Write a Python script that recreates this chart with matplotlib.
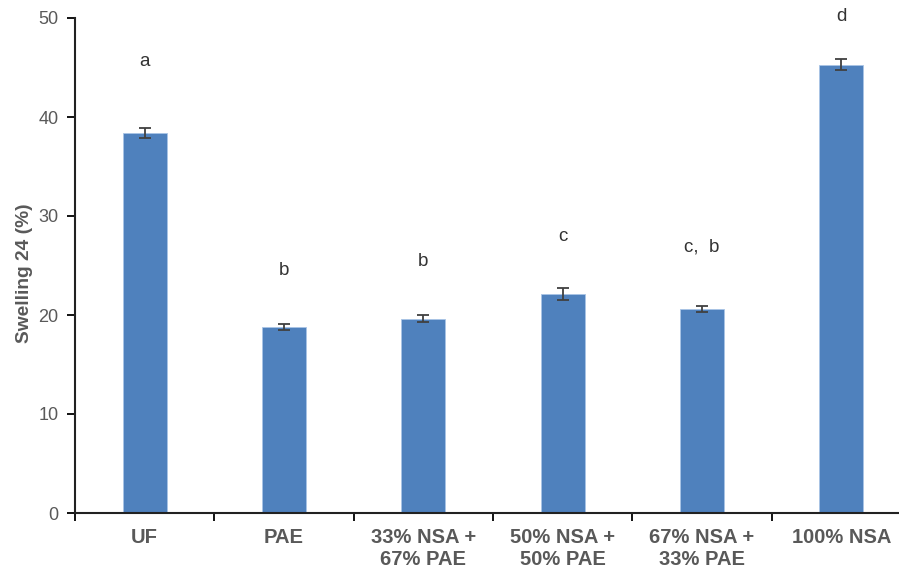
import matplotlib
matplotlib.use("Agg")
import matplotlib.pyplot as plt
import numpy as np

categories = ["UF", "PAE", "33% NSA +\n67% PAE", "50% NSA +\n50% PAE", "67% NSA +\n33% PAE", "100% NSA"]
swelling = [38.4, 18.8, 19.6, 22.1, 20.6, 45.3]
errors = [0.5, 0.3, 0.35, 0.6, 0.3, 0.55]
letters = ["a", "b", "b", "c", "c,  b", "d"]
letter_y = [45.6, 24.5, 25.4, 27.9, 26.9, 50.2]

plt.rcParams['font.family'] = ['Liberation Sans', 'DejaVu Sans']
text_color = "#595959"

fig = plt.figure(figsize=(8.99, 5.75), dpi=100)
ax = fig.add_axes([75 / 899, 62 / 575, 1 - 75 / 899, (513 - 18) / 575])

x = np.arange(len(categories))
ax.bar(x, swelling, width=0.316, color="#4F81BD", edgecolor="#A9C4E6", linewidth=0.6, zorder=2)
ax.errorbar(x, swelling, yerr=errors, fmt="none", ecolor="#404040", elinewidth=1.3,
            capsize=4, capthick=1.3, zorder=3)

for xi, lab, ly in zip(x, letters, letter_y):
    ax.text(xi, ly, lab, ha="center", va="center", fontsize=13.5, color="#333333", clip_on=False)

ax.set_ylim(0, 50)
ax.set_xlim(-0.5, 5.414)
ax.set_yticks(np.arange(0, 51, 10))
ax.tick_params(axis="y", direction="out", length=6, width=1.3, labelsize=13,
               labelcolor=text_color, pad=6)

# category boundaries carry the tick marks, labels sit at the centres
ax.set_xticks(np.arange(-0.5, 5.5, 1.0))
ax.set_xticklabels([])
ax.set_xticks(x, minor=True)
ax.set_xticklabels(categories, minor=True, fontsize=14.5, fontweight="bold",
                   color=text_color, linespacing=1.2)
ax.tick_params(axis="x", which="major", direction="out", length=6, width=1.3)
ax.tick_params(axis="x", which="minor", length=0, pad=11)

for side in ("top", "right"):
    ax.spines[side].set_visible(False)
for side in ("left", "bottom"):
    ax.spines[side].set_linewidth(1.5)
    ax.spines[side].set_color("#222222")

ax.set_ylabel("Swelling 24 (%)", fontsize=13.8, fontweight="bold", color=text_color)
ax.yaxis.set_label_coords(-42 / 824, 0.485)

fig.savefig("out.png", dpi=100)
